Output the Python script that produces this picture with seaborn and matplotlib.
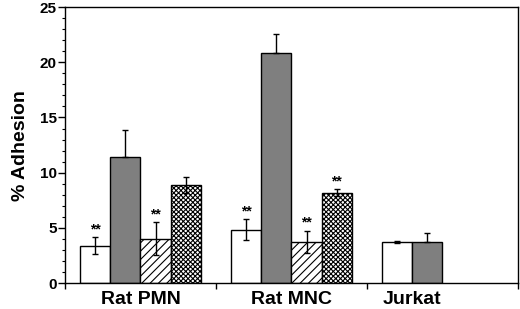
import numpy as np
import pandas as pd
import matplotlib
matplotlib.use("Agg")
import matplotlib.pyplot as plt
import seaborn as sns
from matplotlib.ticker import MultipleLocator, FixedLocator

# ---- data ----
groups = ["Rat PMN", "Rat MNC", "Jurkat"]
conditions = ["Cond 1", "Cond 2", "Cond 3", "Cond 4"]
means = {
    "Rat PMN": [3.4, 11.4, 4.0, 8.9],
    "Rat MNC": [4.85, 20.85, 3.75, 8.2],
    "Jurkat": [3.7, 3.7],
}
err_up = {
    "Rat PMN": [0.75, 2.5, 1.5, 0.75],
    "Rat MNC": [0.95, 1.75, 1.0, 0.35],
    "Jurkat": [0.08, 0.8],
}
err_lo = {
    "Rat PMN": [0.75, 0.0, 1.5, 0.75],
    "Rat MNC": [0.95, 0.0, 1.0, 0.35],
    "Jurkat": [0.08, 0.0],
}
stars = {
    "Rat PMN": ["**", "", "**", ""],
    "Rat MNC": ["**", "", "**", "**"],
    "Jurkat": ["", ""],
}
y_label = "% Adhesion"

rows = []
for g in groups:
    for i, v in enumerate(means[g]):
        rows.append(dict(group=g, cond=conditions[i], value=v,
                         eu=err_up[g][i], el=err_lo[g][i], star=stars[g][i]))
df = pd.DataFrame(rows)

sns.set_style("ticks")
plt.rcParams["font.family"] = ["Liberation Sans", "DejaVu Sans"]
plt.rcParams["font.weight"] = "bold"
plt.rcParams["hatch.linewidth"] = 0.8
plt.rcParams["text.color"] = "black"
plt.rcParams["axes.labelcolor"] = "black"
plt.rcParams["xtick.color"] = "black"
plt.rcParams["ytick.color"] = "black"

fig = plt.figure(figsize=(5.2, 3.09), dpi=100)
ax = fig.add_axes([0.125, 0.084, 0.871, 0.893])

palette = {"Cond 1": "white", "Cond 2": "#7f7f7f", "Cond 3": "white", "Cond 4": "white"}
sns.barplot(data=df, x="group", y="value", hue="cond", order=groups,
            hue_order=conditions, palette=palette, errorbar=None,
            edgecolor="black", linewidth=1.0, width=0.8, saturation=1,
            legend=False, ax=ax)

hatches = [None, None, "////", "xxxxxxx"]
bar_containers = list(ax.containers)
for ci, cont in enumerate(bar_containers):
    sub = df[df["cond"] == conditions[ci]]
    for bar in cont:
        h = hatches[ci]
        if h:
            bar.set_hatch(h)
        xc = bar.get_x() + bar.get_width() / 2
        gi = int(round(xc))
        r = sub[sub["group"] == groups[gi]]
        if r.empty:
            continue
        r = r.iloc[0]
        ax.errorbar(xc, r.value, yerr=[[r.el], [r.eu]], fmt="none",
                    ecolor="black", elinewidth=1.0, capsize=2.2, capthick=1.0,
                    zorder=5)
        if r.star:
            ax.annotate(r.star, (xc, r.value + r.eu), xytext=(0, 0.5),
                        textcoords="offset points", ha="center", va="bottom",
                        fontsize=10, fontweight="bold", color="black")

ax.set_xlim(-0.5, 2.5)
ax.set_ylim(0, 25)
ax.yaxis.set_major_locator(MultipleLocator(5))
ax.yaxis.set_minor_locator(MultipleLocator(1))
ax.tick_params(axis="y", which="major", length=5, width=1, direction="out",
               labelsize=11, pad=1, colors="black")
ax.tick_params(axis="y", which="minor", length=2.5, width=0.8, direction="out",
               colors="black")

label_pos = [0, 1, 1.8]
ax.xaxis.set_major_locator(FixedLocator(label_pos))
ax.set_xticklabels(groups, fontsize=14, fontweight="bold", color="black")
ax.xaxis.set_minor_locator(FixedLocator([-0.5, 0.5, 1.5, 2.5]))
ax.tick_params(axis="x", which="major", length=0, pad=6)
ax.tick_params(axis="x", which="minor", length=4, width=1, direction="out",
               colors="black")

ax.set_xlabel("")
ax.set_ylabel(y_label, fontsize=14, fontweight="bold", labelpad=8, color="black")
for s in ax.spines.values():
    s.set_visible(True)
    s.set_linewidth(1.0)
    s.set_color("black")

fig.savefig("out.png", dpi=100)
